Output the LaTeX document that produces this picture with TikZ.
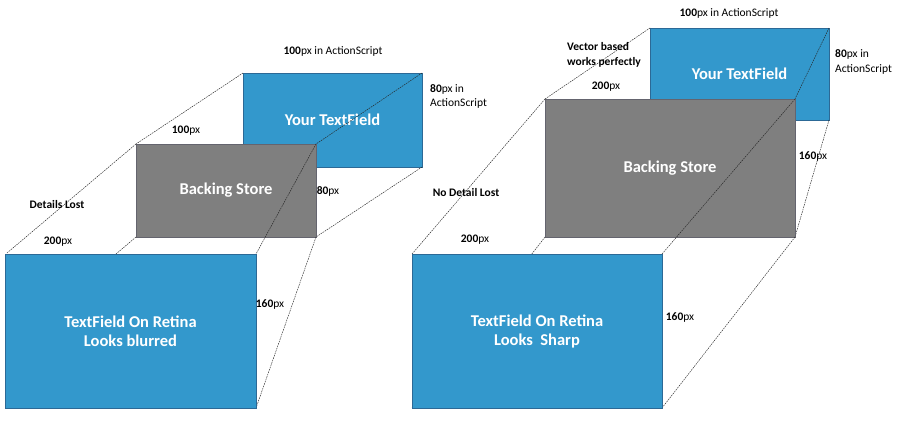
\documentclass[tikz,border=0pt]{standalone}
\usepackage{fontspec}
\setmainfont{Carlito}
\definecolor{tfblue}{RGB}{51,152,204}
\definecolor{tfborder}{RGB}{44,105,150}
\definecolor{bsgray}{RGB}{127,127,127}
\definecolor{bsborder}{RGB}{100,100,110}
\begin{document}
\begin{tikzpicture}[x=1pt,y=-1pt,
  bluebox/.style={rectangle,inner sep=0pt,outer sep=0pt,fill=tfblue,draw=tfborder,line width=0.8pt,
    text=white,font=\fontsize{16.5}{19}\selectfont\bfseries,align=center},
  graybox/.style={rectangle,inner sep=0pt,outer sep=0pt,fill=bsgray,draw=bsborder,line width=0.8pt,
    text=white,font=\fontsize{16.5}{19}\selectfont\bfseries,align=center},
  guide/.style={line width=0.45pt,draw=black!85,dash pattern=on 1.6pt off 0.9pt},
  lbl/.style={inner sep=0pt,font=\fontsize{11.5}{14.5}\selectfont,text=black},
  boldlbl/.style={inner sep=0pt,font=\fontsize{11.5}{14.5}\selectfont\bfseries,text=black}]
\useasboundingbox (0,0) rectangle (900,424);
\fill[white] (0,0) rectangle (900,424);

% ---------- left diagram ----------
\node[bluebox,minimum width=179pt,minimum height=94pt] (tf1) at (332.5,120) {Your TextField};
\node[graybox,minimum width=180pt,minimum height=93pt] (bs1) at (226,190.5) {};
\draw[guide] (tf1.north west) -- (bs1.north west);
\draw[guide] (tf1.north east) -- (bs1.north east);
\draw[guide] (tf1.south east) -- (bs1.south east);
\node[graybox,minimum width=180pt,minimum height=93pt] (bs1) at (226,190.5) {Backing Store};
\coordinate (hid1) at (116,254);
\draw[guide] (bs1.south west) -- (hid1);
\draw[guide] (bs1.north west) -- (7,253) coordinate (ret1tl);
\draw[guide] (bs1.north east) -- (256,254) coordinate (ret1tr);
\draw[guide] (bs1.south east) -- (256,408) coordinate (ret1br);
\node[bluebox,minimum width=251pt,minimum height=154pt] (ret1) at (130.5,331) {TextField On Retina\\Looks blurred};

\node[lbl] (l1a) at (333,51) {\textbf{100}px in ActionScript};
\node[lbl,anchor=west,align=left] (l1b) at (430,96.5) {\textbf{80}px in\\ActionScript};
\node[lbl] (l1c) at (186,131) {\textbf{100}px};
\node[lbl] (l1d) at (328,191) {\textbf{80}px};
\node[boldlbl] (l1e) at (57,205) {Details Lost};
\node[lbl] (l1f) at (58,242) {\textbf{200}px};
\node[lbl] (l1g) at (270,304) {\textbf{160}px};

% ---------- right diagram ----------
\node[bluebox,minimum width=179pt,minimum height=92pt] (tf2) at (739.5,74) {Your TextField};
\node[graybox,minimum width=250pt,minimum height=138pt] (bs2) at (670,168) {};
\draw[guide] (tf2.north west) -- (bs2.north west);
\draw[guide] (tf2.north east) -- (bs2.north east);
\draw[guide] (tf2.south east) -- (bs2.south east);
\node[graybox,minimum width=250pt,minimum height=138pt] (bs2) at (670,168) {Backing Store};
\node[bluebox,minimum width=250pt,minimum height=154pt] (ret2) at (537,331) {};
\draw[guide] (bs2.south west) -- (ret2.south west);
\draw[guide] (bs2.north west) -- (ret2.north west);
\draw[guide] (bs2.north east) -- (ret2.north east);
\draw[guide] (bs2.south east) -- (ret2.south east);
\node[bluebox,minimum width=250pt,minimum height=154pt] (ret2) at (537,331) {TextField On Retina\\Looks\ \ Sharp};

\node[lbl] (l2a) at (729,13) {\textbf{100}px in ActionScript};
\node[lbl,anchor=west,align=left] (l2b) at (835,62) {\textbf{80}px in\\ActionScript};
\node[boldlbl,anchor=west,align=left] (l2c) at (567,55) {Vector based\\works perfectly};
\node[lbl] (l2d) at (606,87) {\textbf{200}px};
\node[lbl] (l2e) at (813,156) {\textbf{160}px};
\node[boldlbl] (l2f) at (466,193) {No Detail Lost};
\node[lbl] (l2g) at (475,240) {\textbf{200}px};
\node[lbl] (l2h) at (680,317) {\textbf{160}px};
\end{tikzpicture}
\end{document}
